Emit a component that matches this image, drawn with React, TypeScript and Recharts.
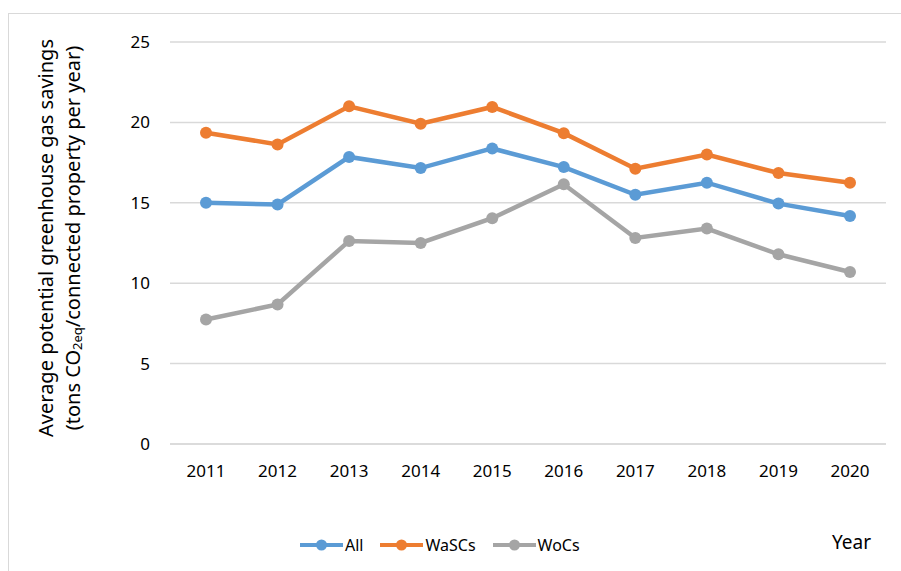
import React from 'react';
import { LineChart, Line, XAxis, YAxis, CartesianGrid } from 'recharts';

const years = ['2011', '2012', '2013', '2014', '2015', '2016', '2017', '2018', '2019', '2020'];
const allValues = [15.0, 14.9, 17.85, 17.16, 18.38, 17.22, 15.5, 16.25, 14.95, 14.18];
const wascValues = [19.36, 18.63, 21.0, 19.92, 20.96, 19.33, 17.12, 18.0, 16.85, 16.25];
const wocValues = [7.74, 8.68, 12.63, 12.5, 14.04, 16.15, 12.81, 13.4, 11.8, 10.7];
const yTicks = [0, 5, 10, 15, 20, 25];

const SERIES = [
    { key: 'all', name: 'All', color: '#5B9BD5' },
    { key: 'wasc', name: 'WaSCs', color: '#ED7D31' },
    { key: 'woc', name: 'WoCs', color: '#A5A5A5' },
];

const data = years.map((year, i) => ({
    year,
    all: allValues[i],
    wasc: wascValues[i],
    woc: wocValues[i],
}));

const FONT = '"Noto Sans", sans-serif';
const TEXT = '#000000';

const LegendRow = () => (
    <div style={{ position: 'absolute', left: 300, top: 534, display: 'flex', alignItems: 'center', fontFamily: FONT, fontSize: 16, color: TEXT }}>
        {SERIES.map((s) => (
            <div key={s.key} style={{ display: 'flex', alignItems: 'center', marginRight: 17 }}>
                <svg width={43} height={14}>
                    <line x1={0} y1={7} x2={43} y2={7} stroke={s.color} strokeWidth={4} strokeLinecap="round" />
                    <circle cx={21.5} cy={7} r={5.5} fill={s.color} />
                </svg>
                <span style={{ marginLeft: 2 }}>{s.name}</span>
            </div>
        ))}
    </div>
);

export default function App() {
    return (
        <div style={{ position: 'absolute', left: 0, top: 0, width: 901, height: 571, background: '#fff', overflow: 'hidden' }}>
            <style>{'body{margin:0}'}</style>
            <div style={{ position: 'absolute', left: 8, top: 13, width: 1000, height: 700, borderLeft: '1.5px solid #d9d9d9', borderTop: '1.5px solid #d9d9d9' }} />
            <LineChart width={901} height={571} data={data} margin={{ top: 42, right: 15, left: 120, bottom: 97 }}>
                <CartesianGrid vertical={false} stroke="#d9d9d9" strokeWidth={1.5} />
                <XAxis
                    dataKey="year"
                    height={30}
                    padding={{ left: 36, right: 36 }}
                    tickLine={false}
                    axisLine={{ stroke: '#d9d9d9', strokeWidth: 1.5 }}
                    tickMargin={15}
                    tick={{ fontSize: 17, fill: TEXT, fontFamily: FONT }}
                />
                <YAxis
                    width={50}
                    domain={[0, 25]}
                    ticks={yTicks}
                    tickLine={false}
                    axisLine={false}
                    tickMargin={14}
                    tick={{ fontSize: 17, fill: TEXT, fontFamily: FONT }}
                />
                {SERIES.map((s) => (
                    <Line
                        key={s.key}
                        type="linear"
                        dataKey={s.key}
                        name={s.name}
                        stroke={s.color}
                        strokeWidth={4.5}
                        dot={{ r: 6, fill: s.color, stroke: s.color, strokeWidth: 0 }}
                        activeDot={false}
                        isAnimationActive={false}
                    />
                ))}
            </LineChart>
            <svg style={{ position: 'absolute', left: 0, top: 0 }} width={120} height={571}>
                <text transform="translate(45,238) rotate(-90)" textAnchor="middle" dominantBaseline="central" fontFamily={FONT} fontSize={20} fill={TEXT}>
                    Average potential greenhouse gas savings
                </text>
                <text transform="translate(72,238) rotate(-90)" textAnchor="middle" dominantBaseline="central" fontFamily={FONT} fontSize={20} fill={TEXT}>
                    (tons CO<tspan fontSize={13} dy={5}>2eq</tspan><tspan dy={-5}>/connected property per year)</tspan>
                </text>
            </svg>
            <LegendRow />
            <div style={{ position: 'absolute', left: 832, top: 529, fontFamily: FONT, fontSize: 19, color: TEXT }}>Year</div>
        </div>
    );
}
